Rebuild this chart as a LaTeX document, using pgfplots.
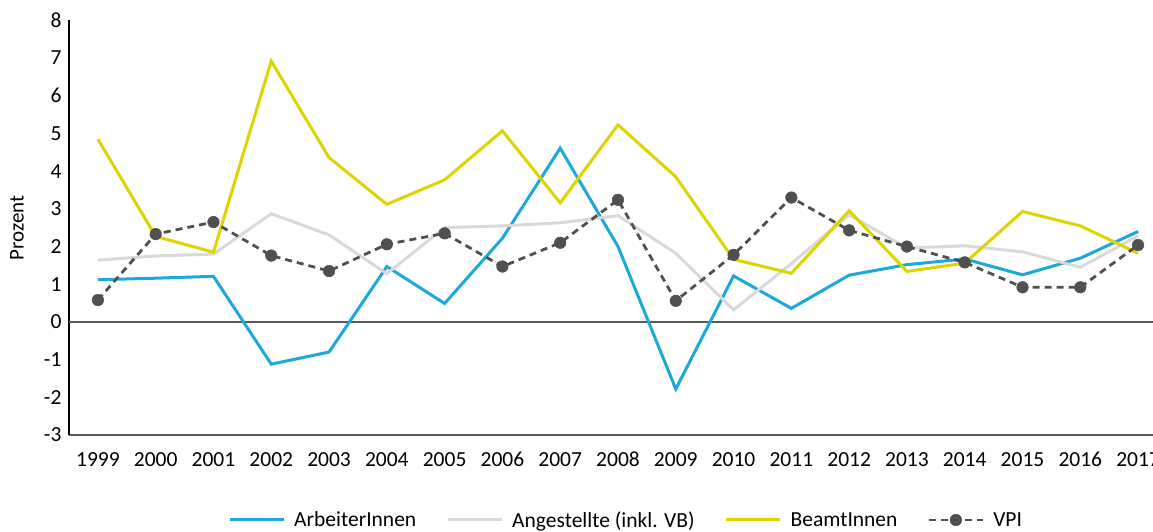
\documentclass[border=0pt]{standalone}
\usepackage{pgfplots}
\pgfplotsset{compat=1.18}
\usepackage{fontspec}
\setmainfont{Carlito}
\definecolor{cblue}{RGB}{29,168,219}
\definecolor{cgray}{RGB}{217,217,217}
\definecolor{cyel}{RGB}{221,212,0}
\definecolor{cvpi}{RGB}{80,80,80}
\definecolor{caxis}{RGB}{89,89,89}
\pgfplotstableread{
x arb ang bea vpi
0 1.12 1.64 4.85 0.58
1 1.16 1.75 2.27 2.33
2 1.21 1.80 1.85 2.65
3 -1.12 2.87 6.92 1.76
4 -0.80 2.31 4.36 1.35
5 1.47 1.28 3.12 2.06
6 0.49 2.50 3.77 2.35
7 2.22 2.55 5.07 1.47
8 4.61 2.63 3.16 2.10
9 2.00 2.82 5.23 3.24
10 -1.78 1.82 3.85 0.56
11 1.22 0.32 1.66 1.78
12 0.36 1.55 1.29 3.30
13 1.24 2.84 2.95 2.43
14 1.52 1.96 1.34 2.00
15 1.67 2.02 1.56 1.58
16 1.25 1.86 2.93 0.92
17 1.69 1.45 2.55 0.92
18 2.40 2.28 1.82 2.04
}\datatable
\begin{document}
\begin{tikzpicture}
\useasboundingbox (0,0) rectangle (1153pt,531pt);
\begin{axis}[
  at={(69pt,96pt)}, anchor=south west,
  scale only axis, width=1098pt, height=414.6pt,
  xmin=-0.5, xmax=18.5, ymin=-3, ymax=8,
  axis lines=left,
  axis line style={-},
  x axis line style={caxis, line width=1.3pt},
  y axis line style={black, line width=1.2pt},
  xtick={0,...,18},
  xticklabels={1999,2000,2001,2002,2003,2004,2005,2006,2007,2008,2009,2010,2011,2012,2013,2014,2015,2016,2017},
  ytick={-3,...,8},
  major tick length=0pt,
  tick label style={font=\fontsize{21.5}{25}\selectfont},
  /pgf/number format/assume math mode=true,
  yticklabel style={xshift=-4pt},
  xticklabel style={yshift=-13pt, text height=15pt, text depth=0pt},
  ylabel={Prozent},
  ylabel style={at={(axis description cs:-0.0474,0.5)}, anchor=center, rotate=0, font=\fontsize{21}{25}\selectfont},
  legend columns=4,
  legend style={at={(axis description cs:0.1448,-0.205)}, anchor=west, draw=none, inner sep=0pt,
    font=\fontsize{21.5}{25}\selectfont,
    nodes={inner xsep=4pt},
    /tikz/every odd column/.append style={column sep=5pt},
    /tikz/every even column/.append style={column sep=26pt}},
  legend image code/.code={\draw[mark repeat=2,mark phase=2,#1] plot coordinates {(0pt,0pt) (27pt,0pt) (54pt,0pt)};},
  clip=false,
]
\draw[caxis, line width=1.3pt] (axis cs:-0.5,0) -- (axis cs:18.5,0);
\addplot[cblue, line width=3pt, no marks] table[x=x,y=arb] {\datatable};
\addlegendentry{ArbeiterInnen}
\addplot[cgray, line width=3pt, no marks] table[x=x,y=ang] {\datatable};
\addlegendentry{Angestellte (inkl. VB)}
\addplot[cyel, line width=3pt, no marks] table[x=x,y=bea] {\datatable};
\addlegendentry{BeamtInnen}
\addplot[cvpi, line width=2.8pt, dash pattern=on 7pt off 5pt, mark=*, mark size=5.8pt, mark options={solid, fill=cvpi, draw=cvpi, line width=0.5pt}] table[x=x,y=vpi] {\datatable};
\addlegendentry{VPI}
\end{axis}
\end{tikzpicture}
\end{document}
